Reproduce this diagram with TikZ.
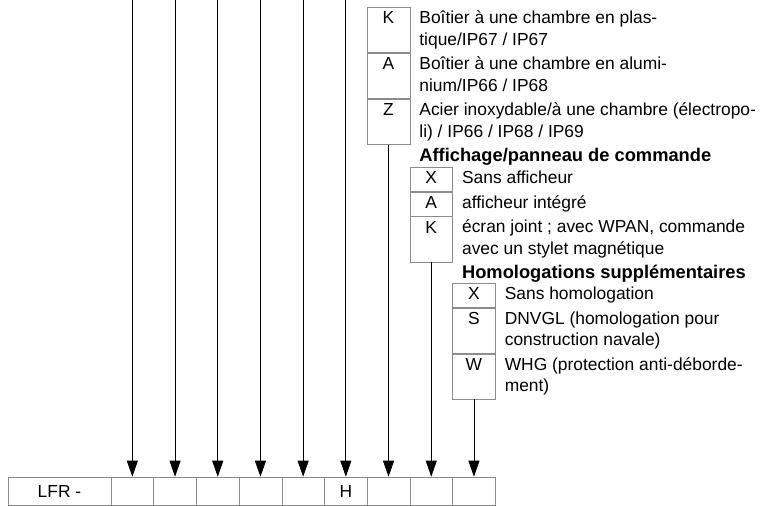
\documentclass[tikz,border=0pt]{standalone}
\usepackage{fontspec}
\setmainfont{Liberation Sans}
\usetikzlibrary{arrows.meta,positioning}

\begin{document}
\begin{tikzpicture}[x=1pt,y=-1pt,
    cell/.style={draw=black!45,line width=0.6pt,minimum height=28.5pt,minimum width=\cellwidth pt,inner sep=0pt,font=\codefontsize},
    keycell/.style={draw=black!45,line width=0.6pt,minimum width=\cellwidth pt,inner sep=0pt,anchor=north west,
        text height=16.5pt,text depth=#1,font=\codefontsize},
    desc/.style={anchor=north west,align=left,inner xsep=9pt,inner ysep=0pt,font=\codefontsize},
    heading/.style={desc,font=\headingfontsize},
    feed/.style={line width=0.8pt,-{Triangle[length=16pt,width=11pt]}}]
    \pgfmathsetmacro{\cellwidth}{42.7}
    \pgfmathsetmacro{\rowone}{24-16.5}
    \pgfmathsetmacro{\rowtwo}{45.3-16.5}
    \providecommand{\codefontsize}{\fontsize{17.4}{21.5}\selectfont}
    \providecommand{\headingfontsize}{\bfseries\fontsize{18.3}{21.5}\selectfont}
    \providecommand{\firstline}{\rule{0pt}{16.5pt}}
    \useasboundingbox (0,0) rectangle (764,506);
    % type code
    \node[cell,minimum width=103pt] (lfr) at (59.5,491.25) {LFR -};
    \foreach \i/\code in {1/,2/,3/,4/,5/,6/H,7/,8/,9/}
        \node[cell] (c\i) at ({111+\cellwidth*(\i-0.5)},491.25) {\code};
    \foreach \i in {1,...,6} {
        \coordinate (top\i) at (c\i.north |- 0,0);
        \draw[feed] (top\i) -- (c\i.north);
    }
    % housing
    \node[keycell=\rowtwo pt] (hk) at (c7.west |- 0,7) {K};
    \node[keycell=\rowtwo pt] (ha) at (hk.south west) {A};
    \node[keycell=\rowtwo pt] (hz) at (ha.south west) {Z};
    \node[desc] (hkt) at (hk.north east) {\firstline Boîtier à une chambre en plas-\\tique/IP67 / IP67};
    \node[desc] (hat) at (ha.north east) {\firstline Boîtier à une chambre en alumi-\\nium/IP66 / IP68};
    \node[desc] (hzt) at (hz.north east) {\firstline Acier inoxydable/à une chambre (électropo-\\li) / IP66 / IP68 / IP69};
    % display
    \node[heading] (dhead) at (hz.south east) {\firstline Affichage/panneau de commande};
    \node[keycell=\rowone pt] (dx) at (c8.west |- 0,167) {X};
    \node[keycell=\rowone pt] (da) at (dx.south west) {A};
    \node[keycell=\rowtwo pt] (dk) at (da.south west) {K};
    \node[desc] (dxt) at (dx.north east) {\firstline Sans afficheur};
    \node[desc] (dat) at (da.north east) {\firstline afficheur intégré};
    \node[desc] (dkt) at (dk.north east) {\firstline écran joint ; avec WPAN, commande\\avec un stylet magnétique};
    % approvals
    \node[heading] (ahead) at (dk.south east) {\firstline Homologations supplémentaires};
    \node[keycell=\rowone pt] (ax) at (c9.west |- 0,283) {X};
    \node[keycell=\rowtwo pt] (as) at (ax.south west) {S};
    \node[keycell=\rowtwo pt] (aw) at (as.south west) {W};
    \node[desc] (axt) at (ax.north east) {\firstline Sans homologation};
    \node[desc] (ast) at (as.north east) {\firstline DNVGL (homologation pour\\construction navale)};
    \node[desc] (awt) at (aw.north east) {\firstline WHG (protection anti-déborde-\\ment)};
    \draw[feed] (hz.south) -- (c7.north);
    \draw[feed] (dk.south) -- (c8.north);
    \draw[feed] (aw.south) -- (c9.north);
\end{tikzpicture}
\end{document}
